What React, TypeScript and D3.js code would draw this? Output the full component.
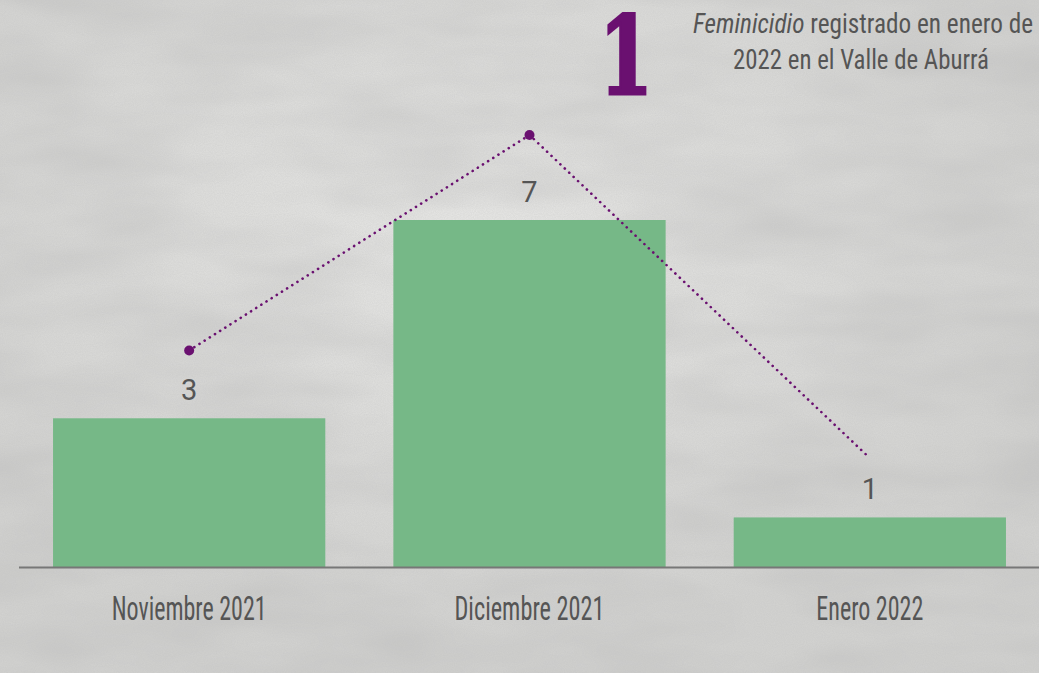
import React, { useEffect, useRef } from 'react';
import * as d3 from 'd3';

const categories = ['Noviembre 2021', 'Diciembre 2021', 'Enero 2022'];
const casos = [3, 7, 1];
const tendencia = [3, 7, 1];
const destacado = '1';
const notaItalica = 'Feminicidio';
const notaLinea1 = ' registrado en enero de';
const notaLinea2 = '2022 en el Valle de Aburrá';

const W = 1039;
const H = 673;
const condensed = "'Roboto Condensed', 'Liberation Sans Narrow', 'DejaVu Sans Condensed', 'Noto Sans', sans-serif";

const App = () => {
    const ref = useRef<SVGSVGElement>(null);

    useEffect(() => {
        const svg = d3.select(ref.current);
        svg.selectAll('*').remove();

        // concrete-like background
        const defs = svg.append('defs');
        const f = defs.append('filter').attr('id', 'concrete').attr('x', 0).attr('y', 0).attr('width', 1).attr('height', 1);
        f.append('feTurbulence').attr('type', 'fractalNoise').attr('baseFrequency', 0.9).attr('numOctaves', 2).attr('seed', 3).attr('result', 'n');
        f.append('feColorMatrix').attr('type', 'matrix')
            .attr('values', '0 0 0 0 0.5  0 0 0 0 0.5  0 0 0 0 0.5  0 0 0 0.35 -0.05');
        const f2 = defs.append('filter').attr('id', 'blotch').attr('x', 0).attr('y', 0).attr('width', 1).attr('height', 1);
        f2.append('feTurbulence').attr('type', 'fractalNoise').attr('baseFrequency', '0.006 0.02').attr('numOctaves', 3).attr('seed', 7);
        f2.append('feColorMatrix').attr('type', 'matrix')
            .attr('values', '0 0 0 0 0.45  0 0 0 0 0.45  0 0 0 0 0.45  0 0 0 0.6 -0.18');
        const grad = defs.append('radialGradient').attr('id', 'light').attr('cx', 0.45).attr('cy', 0.35).attr('r', 0.6);
        grad.append('stop').attr('offset', '0%').attr('stop-color', '#e6e6e4');
        grad.append('stop').attr('offset', '100%').attr('stop-color', '#d2d2d0');

        svg.append('rect').attr('width', W).attr('height', H).attr('fill', 'url(#light)');
        svg.append('rect').attr('width', W).attr('height', H).attr('filter', 'url(#blotch)');
        svg.append('rect').attr('width', W).attr('height', H).attr('filter', 'url(#concrete)');

        const x = d3.scaleBand<string>().domain(categories).range([19, 1040]).paddingInner(0.2).paddingOuter(0.1);
        const y = d3.scaleLinear().domain([0, 7]).range([567, 220]);
        const yLine = d3.scaleLinear().domain([0, 7]).range([512, 135]);

        // bars
        svg.append('g').selectAll('rect').data(casos).join('rect')
            .attr('x', (d, i) => x(categories[i])!)
            .attr('y', d => y(d))
            .attr('width', x.bandwidth())
            .attr('height', d => y(0) - y(d))
            .attr('fill', '#76b887');

        // baseline
        svg.append('line')
            .attr('x1', 19).attr('x2', W)
            .attr('y1', y(0) + 0.5).attr('y2', y(0) + 0.5)
            .attr('stroke', '#777').attr('stroke-width', 2);

        // value labels
        svg.append('g').selectAll('text').data(casos).join('text')
            .attr('x', (d, i) => x(categories[i])! + x.bandwidth() / 2)
            .attr('y', d => y(d) - 18)
            .attr('text-anchor', 'middle')
            .style('font-family', "Roboto, 'Noto Sans', sans-serif")
            .style('font-weight', 400)
            .style('font-size', '29px')
            .style('fill', '#555')
            .text(d => d);

        // category labels
        svg.append('g').selectAll('text').data(categories).join('text')
            .attr('x', d => x(d)! + x.bandwidth() / 2)
            .attr('y', 620)
            .attr('text-anchor', 'middle')
            .attr('textLength', (d, i) => [155, 150, 107][i])
            .attr('lengthAdjust', 'spacingAndGlyphs')
            .style('font-family', condensed)
            .style('font-size', '33px')
            .style('fill', '#555')
            .text(d => d);

        // trend line
        const pts: [number, number][] = tendencia.map((v, i) => [x(categories[i])! + x.bandwidth() / 2, yLine(v)]);
        svg.append('path')
            .attr('d', d3.line()(pts))
            .attr('fill', 'none')
            .attr('stroke', '#6a1070')
            .attr('stroke-width', 2.6)
            .attr('stroke-linecap', 'round')
            .attr('stroke-dasharray', '0.1 6');
        svg.append('g').selectAll('circle').data(pts.slice(0, 2)).join('circle')
            .attr('cx', d => d[0]).attr('cy', d => d[1])
            .attr('r', 5)
            .attr('fill', '#6a1070');

        // highlight number
        svg.append('text')
            .attr('x', 626).attr('y', 94)
            .attr('text-anchor', 'middle')
            .attr('textLength', 54)
            .attr('lengthAdjust', 'spacingAndGlyphs')
            .style('font-family', "'DejaVu Serif', serif")
            .style('font-weight', 900)
            .style('font-size', '108px')
            .style('fill', '#6a1070')
            .style('stroke', '#6a1070')
            .style('stroke-width', 3)
            .text(destacado);

        const note = svg.append('text')
            .attr('x', 693).attr('y', 33)
            .attr('textLength', 340)
            .attr('lengthAdjust', 'spacingAndGlyphs')
            .style('font-family', condensed)
            .style('font-size', '28px')
            .style('fill', '#555');
        note.append('tspan').style('font-style', 'italic').text(notaItalica);
        note.append('tspan').text(notaLinea1);

        svg.append('text')
            .attr('x', 861).attr('y', 69)
            .attr('text-anchor', 'middle')
            .attr('textLength', 256)
            .attr('lengthAdjust', 'spacingAndGlyphs')
            .style('font-family', condensed)
            .style('font-size', '28px')
            .style('fill', '#555')
            .text(notaLinea2);
    }, []);

    return (
        <div style={{ position: 'absolute', left: 0, top: 0 }}>
            <svg ref={ref} width={W} height={H} style={{ display: 'block' }} />
        </div>
    );
};

export default App;
